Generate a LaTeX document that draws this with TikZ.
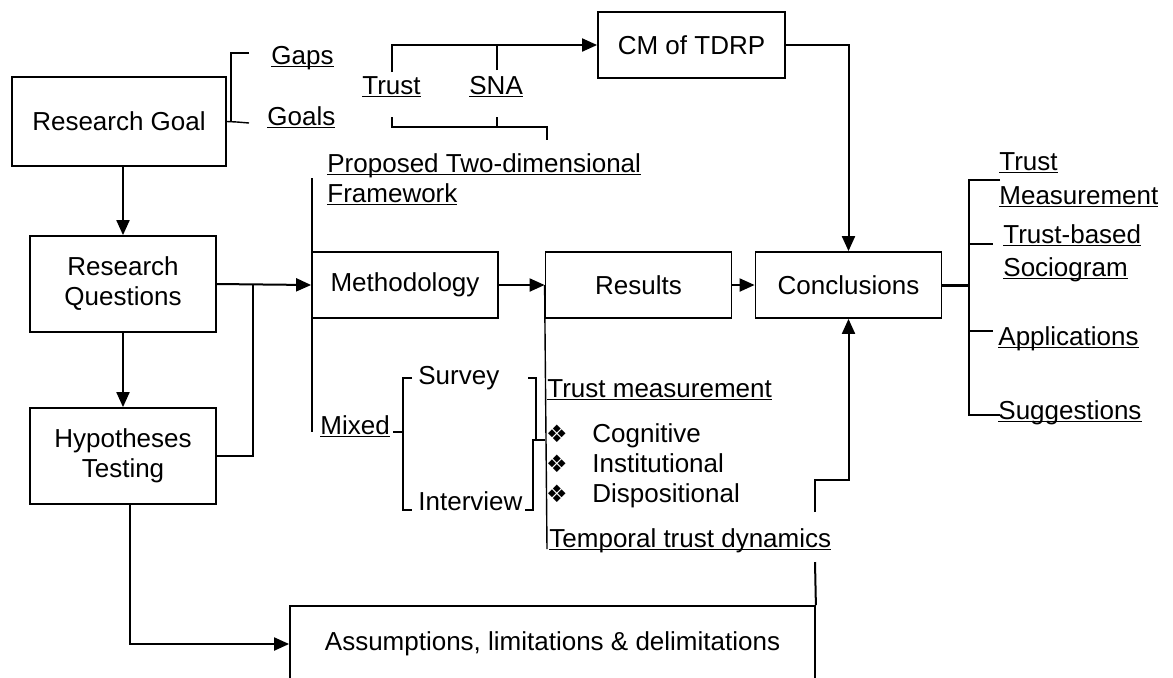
\documentclass[tikz,border=0pt]{standalone}
\usepackage{fontspec}
\setmainfont{Liberation Sans}
\newfontfamily\symfont{DejaVu Sans}
\usetikzlibrary{arrows.meta}
% underlined label with a fixed rule just below the baseline
\newcommand\ulin[1]{\setbox0\hbox{#1}\rlap{\rule[-1.6pt]{\wd0}{0.65pt}}\box0}

\begin{document}
\begin{tikzpicture}[x=0.5pt,y=-0.5pt,
  font=\fontsize{13}{15}\selectfont,
  box/.style={draw,line width=0.9pt,inner sep=0pt,align=center,minimum width=93pt,minimum height=33pt},
  lbl/.style={inner sep=0pt,anchor=base west},
  conn/.style={line width=1pt},
  arr/.style={conn,-{Triangle[length=7.5pt,width=6.5pt]}},
  br/.style={line width=0.7pt},
  bul/.style={inner sep=0pt,font=\symfont\fontsize{12}{12}\selectfont}
]
\useasboundingbox (0,0) rectangle (1173,677);

% main boxes
\node[box,minimum width=107pt,minimum height=44.5pt] (rg) at (119,121.5) {Research Goal};
\node[box,minimum height=48pt] (rq) at (123,284) {Research\\Questions};
\node[box,minimum height=48pt] (ht) at (123,456) {Hypotheses\\Testing};
\node[box] (meth) at (405,285) {Methodology};
\node[box] (res) at (638.5,285) {Results};
\node[box] (conc) at (848.5,285) {Conclusions};
\node[box,minimum width=93.5pt] (cm) at (691.5,45) {CM of TDRP};
\node[box,minimum width=262.5pt,minimum height=38pt] (assum) at (552.5,644) {Assumptions, limitations \& delimitations};

% labels
\node[lbl] (gaps) at (271,64) {\ulin{Gaps}};
\node[lbl] (goals) at (267,125) {\ulin{Goals}};
\node[lbl] (trust) at (362,94) {\ulin{Trust}};
\node[lbl] (sna) at (469,94) {\ulin{SNA}};
\node[lbl] (prop1) at (327,172) {\ulin{Proposed Two-dimensional}};
\node[lbl] (prop2) at (327,202) {\ulin{Framework}};
\node[lbl] (mixed) at (320,434) {\ulin{Mixed}};
\node[lbl] (survey) at (418,384) {Survey};
\node[lbl] (interview) at (418,510) {Interview};
\node[lbl] (tmeas) at (547,397) {\ulin{Trust measurement}};
\node[bul] (b1) at (557,434) {❖};
\node[bul] (b2) at (557,464) {❖};
\node[bul] (b3) at (557,494) {❖};
\node[lbl] (cog) at (592,442) {Cognitive};
\node[lbl] (inst) at (592,472) {Institutional};
\node[lbl] (disp) at (592,502) {Dispositional};
\node[lbl] (temp) at (549,547) {\ulin{Temporal trust dynamics}};
\node[lbl] (tm1) at (999,170) {\ulin{Trust}};
\node[lbl] (tm2) at (999,204) {\ulin{Measurement}};
\node[lbl] (tb1) at (1003,243) {\ulin{Trust-based}};
\node[lbl] (tb2) at (1003,276) {\ulin{Sociogram}};
\node[lbl] (app) at (998,345) {\ulin{Applications}};
\node[lbl] (sug) at (998,419) {\ulin{Suggestions}};

% bracket: research goal to gaps / goals
\coordinate (gA) at (249,53);
\coordinate (gB) at (249,123);
\draw[br] (gA) -| (231,122);
\draw[br] (rg.east) -- (237,122) -- (gB);

% trust and SNA feed the conceptual model
\draw[arr] (392,72) |- (cm.west);
\draw[conn] (497,70) -- (497,44);
\draw[br] (392,117) -- (392,127) -| (547,140);
\draw[br] (497,117) -- (497,127);

% left column
\draw[arr] (rq.north |- rg.south) -- (rq.north);
\draw[arr] (rq.south) -- (ht.north);
\draw[arr] (rq.east) -- (meth.west);
\coordinate (j1) at (253,284);
\draw[conn] (j1) |- (ht.east);
\draw[arr] ([xshift=3.5pt]ht.south) |- (assum.west);

% methodology bracket
\draw[br] (312,178) -- (312,432);

% mixed methods bracket
\draw[br] (393,432) -- (403,432);
\draw[br] (412,378) -| (403,510) -- (412,510);
\draw[br] (528,378) -| (536,440);
\draw[br] (525,510) -| (533,440) -- (545,440);

% main flow
\draw[arr] (meth.east) -- (res.west);
\draw[arr] (res.east) -- (conc.west);
\draw[arr] (cm.east) -| (conc.north);
\draw[br] (res.west) -- (547,549);

% assumptions back to conclusions
\coordinate (t1) at (815,512);
\draw[arr] (t1) -- (815,480) -| (conc.south);
\draw[conn] (assum.north east) -- (815,562);

% outcomes list
\draw[line width=1.5pt] (conc.east) -- (969,285);
\draw[br] (1000,180) -| (969,415) -- (1000,415);
\draw[br] (969,244) -- (993,244);
\draw[br] (969,331) -- (993,331);
\end{tikzpicture}
\end{document}
